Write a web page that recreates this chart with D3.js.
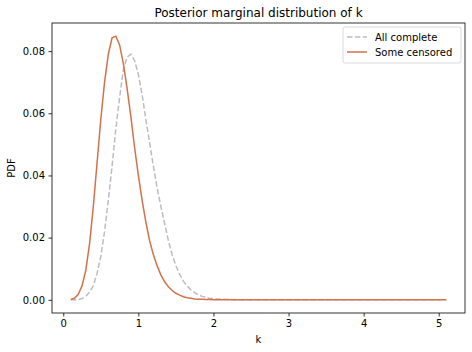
<!DOCTYPE html>
<html>
<head>
<meta charset="utf-8">
<script src="https://cdn.jsdelivr.net/npm/d3@7"></script>
<style>
  body { margin: 0; background: #fff; }
  svg { display: block; font-family: "DejaVu Sans", sans-serif; }
</style>
</head>
<body>
<div id="chart"></div>
<script>
// grid of k values (dense where the curves move, sparse on the flat tail)
const kValues = [0.10, 0.15, 0.20, 0.25, 0.30, 0.35, 0.40, 0.45, 0.50, 0.55,
                 0.60, 0.65, 0.70, 0.75, 0.80, 0.85, 0.90, 0.95, 1.00, 1.05,
                 1.10, 1.15, 1.20, 1.25, 1.30, 1.35, 1.40, 1.45, 1.50, 1.55,
                 1.60, 1.65, 1.70, 1.75, 1.80, 1.85, 1.90, 1.95, 2.00, 2.05,
                 2.10, 2.20, 2.30, 2.50, 3.00, 3.50, 4.00, 4.50, 5.10];

const allComplete = [0, 0.00002, 0.0001, 0.0004, 0.0011, 0.0025, 0.0045, 0.0085, 0.014, 0.022,
                     0.032, 0.043, 0.055, 0.065, 0.074, 0.078, 0.079, 0.077, 0.0725, 0.066,
                     0.058, 0.0505, 0.043, 0.036, 0.030, 0.0245, 0.019, 0.0145, 0.011, 0.0082,
                     0.006, 0.0044, 0.0032, 0.0023, 0.0016, 0.0011, 0.0008, 0.0005, 0.0004, 0.0003,
                     0.0002, 0.0001, 0.00005, 0, 0, 0, 0, 0, 0];

const someCensored = [0.0001, 0.0005, 0.0018, 0.0045, 0.0095, 0.018, 0.030, 0.044, 0.058, 0.070,
                      0.079, 0.0843, 0.0848, 0.082, 0.076, 0.068, 0.059, 0.049, 0.040, 0.032,
                      0.025, 0.019, 0.0145, 0.011, 0.008, 0.0058, 0.0042, 0.003, 0.0021, 0.0015,
                      0.001, 0.0007, 0.0005, 0.0003, 0.0002, 0.00015, 0.0001, 0.00007, 0.00005, 0.00003,
                      0.00002, 0.00001, 0, 0, 0, 0, 0, 0, 0];

const xTicks = [0, 1, 2, 3, 4, 5];
const yTicks = [0, 0.02, 0.04, 0.06, 0.08];

const series = [
  { name: "All complete", values: allComplete, color: "#bdbdbd", dash: "5.5,2.4" },
  { name: "Some censored", values: someCensored, color: "#d5714a", dash: null }
];

const W = 472, H = 352;
const margin = { top: 23, right: 7, bottom: 39, left: 52 };

const svg = d3.select("#chart").append("svg")
    .attr("width", W)
    .attr("height", H);

const x = d3.scaleLinear()
    .domain([-0.15, 5.35])
    .range([margin.left, W - margin.right]);

const y = d3.scaleLinear()
    .domain([-0.00424, 0.08904])
    .range([H - margin.bottom, margin.top]);

const line = d3.line()
    .x((d, i) => x(kValues[i]))
    .y(d => y(d));

const plot = svg.append("g");

series.forEach(s => {
  plot.append("path")
      .datum(s.values)
      .attr("fill", "none")
      .attr("stroke", s.color)
      .attr("stroke-width", 1.5)
      .attr("stroke-dasharray", s.dash)
      .attr("d", line);
});

// axes
const xAxis = svg.append("g")
    .attr("transform", "translate(0," + (H - margin.bottom) + ")")
    .call(d3.axisBottom(x).tickValues(xTicks).tickSize(3.5).tickPadding(3.5).tickFormat(d3.format("d")));

const yAxis = svg.append("g")
    .attr("transform", "translate(" + margin.left + ",0)")
    .call(d3.axisLeft(y).tickValues(yTicks).tickSize(3.5).tickPadding(3.5).tickFormat(d3.format(".2f")));

[xAxis, yAxis].forEach(a => {
  a.select(".domain").remove();
  a.selectAll("line").attr("stroke", "#000").attr("stroke-width", 0.8);
  a.selectAll("text").attr("fill", "#000").style("font-size", "10px").style("font-family", "DejaVu Sans, sans-serif");
});

// frame
svg.append("rect")
    .attr("x", margin.left)
    .attr("y", margin.top)
    .attr("width", W - margin.left - margin.right)
    .attr("height", H - margin.top - margin.bottom)
    .attr("fill", "none")
    .attr("stroke", "#000")
    .attr("stroke-width", 0.8);

// title and labels
svg.append("text")
    .attr("x", (margin.left + W - margin.right) / 2)
    .attr("y", 17)
    .attr("text-anchor", "middle")
    .style("font-size", "12px")
    .text("Posterior marginal distribution of k");

svg.append("text")
    .attr("x", (margin.left + W - margin.right) / 2)
    .attr("y", 343)
    .attr("text-anchor", "middle")
    .style("font-size", "10px")
    .text("k");

svg.append("text")
    .attr("transform", "translate(15," + ((margin.top + H - margin.bottom) / 2) + ") rotate(-90)")
    .attr("text-anchor", "middle")
    .style("font-size", "10px")
    .text("PDF");

// legend
const legend = svg.append("g").attr("transform", "translate(343,27)");

legend.append("rect")
    .attr("width", 118)
    .attr("height", 36)
    .attr("rx", 2)
    .attr("fill", "#fff")
    .attr("fill-opacity", 0.8)
    .attr("stroke", "#d0d0d0")
    .attr("stroke-width", 0.8);

series.forEach((s, i) => {
  const ly = 10 + i * 15;
  legend.append("line")
      .attr("x1", 4).attr("x2", 24)
      .attr("y1", ly).attr("y2", ly)
      .attr("stroke", s.color)
      .attr("stroke-width", 1.5)
      .attr("stroke-dasharray", s.dash);
  legend.append("text")
      .attr("x", 32)
      .attr("y", ly + 3.5)
      .style("font-size", "10px")
      .text(s.name);
});
</script>
</body>
</html>
